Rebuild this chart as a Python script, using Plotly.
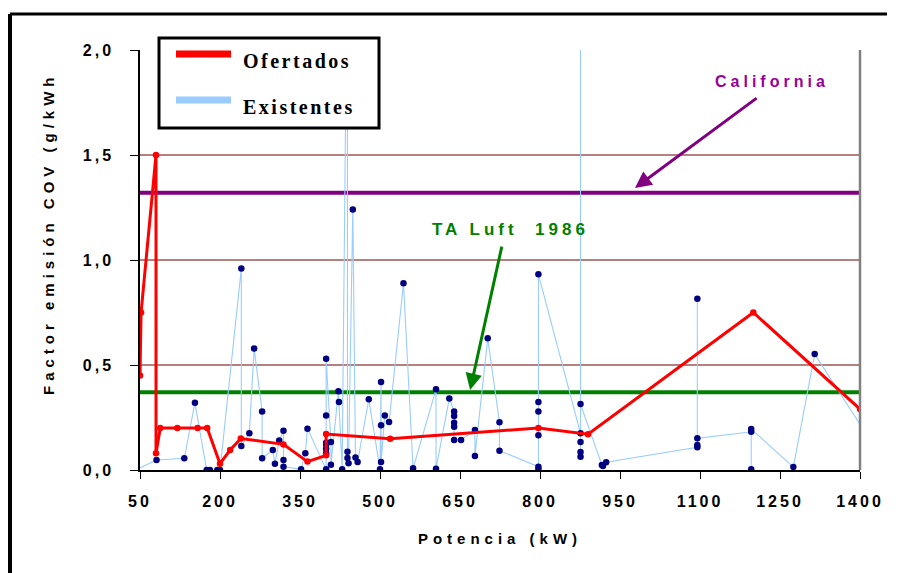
import plotly.graph_objects as go

# ---------------- data ----------------
x_ticks = [50, 200, 350, 500, 650, 800, 950, 1100, 1250, 1400]
x_tick_labels = ["50", "200", "350", "500", "650", "800", "950", "1100", "1250", "1400"]
y_ticks = [0.0, 0.5, 1.0, 1.5, 2.0]
y_tick_labels = ["0,0", "0,5", "1,0", "1,5", "2,0"]
grid_values = [0.5, 1.0, 1.5]

california_limit = 1.32
ta_luft_limit = 0.37
limit_kw = [40, 1400]

ofertados_kw = [50, 52, 80, 80, 88, 120, 158, 176, 200, 219, 239, 319, 364, 399, 399,
                519, 797, 890, 1200, 1400]
ofertados_cov = [0.45, 0.75, 1.5, 0.08, 0.2, 0.2, 0.2, 0.2, 0.03, 0.095, 0.15, 0.122, 0.04,
                 0.07, 0.171, 0.149, 0.2, 0.17, 0.75, 0.29]

existentes_kw = [42, 81, 133, 153, 175, 181, 195, 200, 240, 240, 255, 264, 279, 279, 299,
                 303, 311, 319, 319, 319, 352, 360, 364, 399, 399, 399, 399, 399, 399, 399,
                 408, 408, 422, 423, 429, 439, 439, 439, 441, 449, 454, 458, 479, 500, 502,
                 502, 502, 509, 517, 544, 562, 605, 605, 630, 639, 639, 639, 639, 639, 652,
                 678, 678, 702, 724, 724, 797, 797, 797, 797, 797, 797, 876, 876, 876, 876,
                 876, 876, 916, 918, 924, 1095, 1095, 1095, 1095, 1196, 1196, 1196, 1275,
                 1315, 1430]
existentes_cov = [0.0, 0.048, 0.056, 0.32, 0.0, 0.0, 0.0, 0.0, 0.96, 0.114, 0.175, 0.578,
                  0.278, 0.056, 0.095, 0.03, 0.14, 0.187, 0.048, 0.016, 0.003, 0.08, 0.197,
                  0.003, 0.08, 0.1, 0.12, 0.13, 0.26, 0.53, 0.133, 0.025, 0.375, 0.324,
                  0.003, 2.6, 0.087, 0.057, 0.032, 1.24, 0.06, 0.038, 0.337, 0.003, 0.419,
                  0.213, 0.038, 0.26, 0.228, 0.889, 0.008, 0.384, 0.006, 0.341, 0.278,
                  0.257, 0.225, 0.206, 0.143, 0.143, 0.19, 0.067, 0.627, 0.227, 0.092,
                  0.016, 0.005, 0.165, 0.278, 0.324, 0.932, 0.175, 0.133, 0.086, 0.063,
                  2.6, 0.314, 0.024, 0.019, 0.037, 0.108, 0.119, 0.816, 0.151, 0.182,
                  0.003, 0.195, 0.014, 0.552, 0.1]

# ---------------- helpers ----------------
SANS = "Liberation Sans, Arial, sans-serif"
SERIF = "Liberation Serif, Times New Roman, serif"


def spaced(text, px):
    return '<span style="letter-spacing:%spx">%s</span>' % (px, text)


# the page body has an 8px margin: compensate so that the plot area lands at
# screen x 140..860, y 50..470
BODY = 8
W, H = 917, 573
PL, PT, PW, PH = 140, 50, 720, 420          # plot area in screen pixels
ML, MT = PL - BODY, PT - BODY
MR, MB = W - ML - PW, H - MT - PH


def px_x(p):
    return (p - PL) / PW


def px_y(p):
    return (PT + PH - p) / PH


fig = go.Figure()

# reference limit lines
fig.add_trace(go.Scatter(x=limit_kw, y=[california_limit] * 2, mode="lines",
                         line=dict(color="#800080", width=4), name="California",
                         showlegend=False, hoverinfo="skip"))
fig.add_trace(go.Scatter(x=limit_kw, y=[ta_luft_limit] * 2, mode="lines",
                         line=dict(color="#008000", width=4), name="TA Luft 1986",
                         showlegend=False, hoverinfo="skip"))

# series
fig.add_trace(go.Scatter(x=existentes_kw, y=existentes_cov, mode="lines+markers",
                         line=dict(color="#99CCFF", width=1.1),
                         marker=dict(color="#000080", size=6.5),
                         name="Existentes", showlegend=False))
fig.add_trace(go.Scatter(x=ofertados_kw, y=ofertados_cov, mode="lines+markers",
                         line=dict(color="#FF0000", width=3),
                         marker=dict(color="#FF0000", size=6.5),
                         name="Ofertados", showlegend=False))

# grid lines
for v in grid_values:
    fig.add_shape(type="line", xref="paper", x0=0, x1=1, yref="y", y0=v, y1=v,
                  line=dict(color="#6a0000", width=1), layer="below")

# right plot-area border (gray)
fig.add_shape(type="line", xref="paper", x0=1, x1=1, yref="paper", y0=0, y1=1,
              line=dict(color="#808080", width=2.5))

# outer frame (top and left black)
fig.add_shape(type="line", xref="paper", yref="paper", x0=px_x(10), x1=px_x(887),
              y0=px_y(14), y1=px_y(14), line=dict(color="black", width=3))
fig.add_shape(type="line", xref="paper", yref="paper", x0=px_x(10), x1=px_x(10),
              y0=px_y(14), y1=px_y(585), line=dict(color="black", width=4))

# custom legend
fig.add_shape(type="rect", xref="paper", yref="paper", x0=px_x(159), x1=px_x(379),
              y0=px_y(128), y1=px_y(38), line=dict(color="black", width=3),
              fillcolor="white")
fig.add_shape(type="line", xref="paper", yref="paper", x0=px_x(176), x1=px_x(231),
              y0=px_y(54), y1=px_y(54), line=dict(color="#FF0000", width=7))
fig.add_shape(type="line", xref="paper", yref="paper", x0=px_x(176), x1=px_x(231),
              y0=px_y(100), y1=px_y(100), line=dict(color="#99CCFF", width=7))

annotations = [
    dict(text=spaced("Ofertados", 2.5), x=px_x(241), y=px_y(61), xref="paper", yref="paper",
         xanchor="left", yanchor="middle", showarrow=False,
         font=dict(family=SERIF, size=20, color="black", weight="bold")),
    dict(text=spaced("Existentes", 2.5), x=px_x(241), y=px_y(107), xref="paper", yref="paper",
         xanchor="left", yanchor="middle", showarrow=False,
         font=dict(family=SERIF, size=20, color="black", weight="bold")),
    dict(text=spaced("California", 4), x=px_x(772), y=px_y(82), xref="paper", yref="paper",
         xanchor="center", yanchor="middle", showarrow=False,
         font=dict(family=SANS, size=16, color="#990099", weight="bold")),
    dict(text=spaced("TA Luft&nbsp; 1986", 4), x=px_x(511), y=px_y(229), xref="paper",
         yref="paper", xanchor="center", yanchor="middle", showarrow=False,
         font=dict(family=SANS, size=17, color="#008000", weight="bold")),
    # arrows
    dict(text="", x=978, y=1.343, ax=1209, ay=1.776, xref="x", yref="y", axref="x",
         ayref="y", showarrow=True, arrowhead=2, arrowsize=1.1, arrowwidth=3,
         arrowcolor="#800080"),
    dict(text="", x=669, y=0.381, ax=729, ay=1.071, xref="x", yref="y", axref="x",
         ayref="y", showarrow=True, arrowhead=2, arrowsize=1.1, arrowwidth=3,
         arrowcolor="#008000"),
    # y-axis title
    dict(text=spaced("Factor emisión COV (g/kWh", 5), x=px_x(48), y=px_y(234),
         xref="paper", yref="paper", xanchor="center", yanchor="middle",
         textangle=-90, showarrow=False,
         font=dict(family=SANS, size=15, color="black", weight="bold")),
]

fig.update_layout(
    width=W, height=H, autosize=False,
    margin=dict(l=ML, r=MR, t=MT, b=MB, pad=0),
    paper_bgcolor="white", plot_bgcolor="white",
    showlegend=False,
    annotations=annotations,
    xaxis=dict(
        range=[50, 1400], tickvals=x_ticks,
        ticktext=[spaced(t, 3) for t in x_tick_labels],
        ticks="outside", ticklen=7, tickcolor="black", tickwidth=1,
        showline=True, linecolor="black", linewidth=1.5,
        showgrid=False, zeroline=False, ticklabelstandoff=9,
        tickfont=dict(family=SANS, size=16, color="black", weight="bold"),
        title=dict(text=spaced("Potencia (kW)", 5), standoff=25,
                   font=dict(family=SANS, size=15, color="black", weight="bold")),
    ),
    yaxis=dict(
        range=[0, 2.0], tickvals=y_ticks,
        ticktext=[spaced(t, 3) for t in y_tick_labels],
        ticks="outside", ticklen=8, tickcolor="black", tickwidth=1,
        showline=True, linecolor="black", linewidth=1.5,
        showgrid=False, zeroline=False, ticklabelstandoff=13,
        tickfont=dict(family=SANS, size=16, color="black", weight="bold"),
    ),
)

fig.write_html("out.html")
